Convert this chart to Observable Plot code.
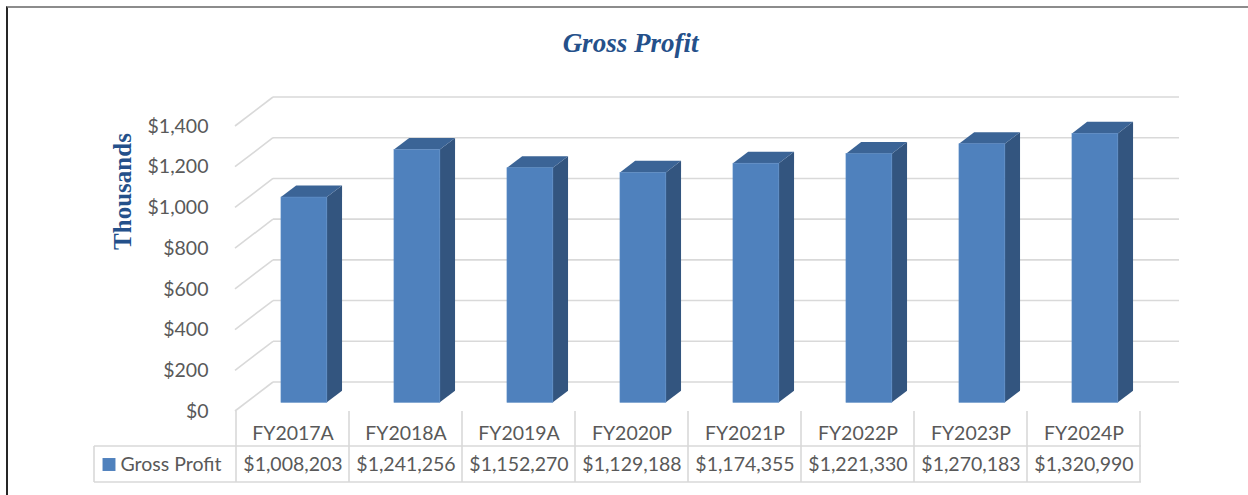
<!DOCTYPE html>
<html><head><meta charset="utf-8">
<script src="https://cdn.jsdelivr.net/npm/d3@7"></script>
<script src="https://cdn.jsdelivr.net/npm/@observablehq/plot@0.6"></script>
<style>
body{margin:0;background:#fff;}
#wrap{position:relative;width:1248px;height:495px;overflow:hidden;background:#fff;}
#frame{position:absolute;left:6px;top:6px;width:1260px;height:500px;border-left:2px solid #262626;border-top:2px solid #8c8c8c;pointer-events:none;}
#wrap svg{position:absolute;left:0;top:0;}
</style></head><body><div id="wrap"><div id="frame"></div></div>
<script>
// ---- data ----
const categories = ["FY2017A","FY2018A","FY2019A","FY2020P","FY2021P","FY2022P","FY2023P","FY2024P"];
const values = [1008.203, 1241.256, 1152.270, 1129.188, 1174.355, 1221.330, 1270.183, 1320.990]; // thousands
const tableLabels = ["$1,008,203","$1,241,256","$1,152,270","$1,129,188","$1,174,355","$1,221,330","$1,270,183","$1,320,990"];
const yTicks = [0, 200, 400, 600, 800, 1000, 1200, 1400];
const seriesName = "Gross Profit";
const titleText = "Gross Profit";
const yTitle = "Thousands";

const data = categories.map((c, i) => ({cat: c, value: values[i], label: tableLabels[i]}));

// ---- 3D look ----
const DEPTH = {x: 38, y: -29};       // offset from front edge to back wall
const BAR_FRONT = 0.3, BAR_BACK = 0.7, BAR_FRAC = 0.406;
const GRID = "#d9d9d9";
const C_FRONT = "#4f81bd", C_SIDE = "#33557f", C_TOP = "#3b6496";

function bandInfo(scales, dim) {
  const x0 = dim.marginLeft, x1 = dim.width - dim.marginRight;
  let bw = scales.x.bandwidth ? +scales.x.bandwidth() : NaN;
  if (!(bw > 0)) bw = (x1 - x0) / categories.length;
  return {x0, x1, bw};
}

function walls(index, scales, vals, dim) {
  const {x0, x1, bw} = bandInfo(scales, dim);
  const g = d3.create("svg:g").attr("fill", "none").attr("stroke", GRID).attr("stroke-width", 1.6);
  for (const t of yTicks) {
    const y = scales.y(t);
    g.append("line").attr("x1", x0 + DEPTH.x).attr("x2", x1 + DEPTH.x).attr("y1", y + DEPTH.y).attr("y2", y + DEPTH.y);
    g.append("line").attr("x1", x0).attr("x2", x0 + DEPTH.x).attr("y1", y).attr("y2", y + DEPTH.y);
  }
  // data table grid
  const yb = scales.y(0);
  const rowTop = yb + 35, rowBot = yb + 71;
  for (let i = 0; i <= categories.length; i++) {
    const xb = i < categories.length ? scales.x(categories[i]) : scales.x(categories[i - 1]) + bw;
    g.append("line").attr("x1", xb).attr("x2", xb).attr("y1", yb).attr("y2", rowBot);
  }
  const tl = x0 - 141;
  g.append("line").attr("x1", tl).attr("x2", x1).attr("y1", rowTop).attr("y2", rowTop);
  g.append("line").attr("x1", tl).attr("x2", x1).attr("y1", rowBot).attr("y2", rowBot);
  g.append("line").attr("x1", tl).attr("x2", tl).attr("y1", rowTop).attr("y2", rowBot);
  return g.node();
}

function bars3d(index, scales, vals, dim) {
  const {bw} = bandInfo(scales, dim);
  const g = d3.create("svg:g");
  const fx = DEPTH.x * BAR_FRONT, fy = DEPTH.y * BAR_FRONT;
  const sx = DEPTH.x * (BAR_BACK - BAR_FRONT), sy = DEPTH.y * (BAR_BACK - BAR_FRONT);
  const w = bw * BAR_FRAC;
  for (const d of data) {
    const cx = scales.x(d.cat) + bw / 2 + fx;
    const xl = cx - w / 2, xr = cx + w / 2;
    const yt = scales.y(d.value) + fy, y0 = scales.y(0) + fy;
    g.append("path").attr("fill", C_SIDE)
      .attr("d", `M${xr},${yt}L${xr + sx},${yt + sy}L${xr + sx},${y0 + sy}L${xr},${y0}Z`);
    g.append("path").attr("fill", C_TOP)
      .attr("d", `M${xl},${yt}L${xl + sx},${yt + sy}L${xr + sx},${yt + sy}L${xr},${yt}Z`);
    g.append("rect").attr("fill", C_FRONT).attr("stroke", "#5a8ac4").attr("stroke-width", 0.6)
      .attr("x", xl).attr("y", yt).attr("width", w).attr("height", y0 - yt);
  }
  return g.node();
}

const fmt = d => "$" + d3.format(",")(d);

const chart = Plot.plot({
  width: 1248,
  height: 495,
  marginLeft: 235,
  marginRight: 107,
  marginTop: 126,
  marginBottom: 84,
  x: {type: "band", domain: categories, padding: 0, axis: null},
  y: {domain: [0, 1400], axis: null},
  style: {fontFamily: "Lato", fontSize: "19.5px", color: "#595959", background: "transparent", overflow: "visible"},
  marks: [
    walls,
    bars3d,
    Plot.text(yTicks, {y: d => d, text: fmt, frameAnchor: "left", textAnchor: "end", lineAnchor: "middle", dx: -27, fill: "#595959"}),
    Plot.text(data, {x: "cat", text: "cat", frameAnchor: "bottom", lineAnchor: "middle", dy: 22, fill: "#595959"}),
    Plot.text(data, {x: "cat", text: "label", frameAnchor: "bottom", lineAnchor: "middle", dy: 53, fill: "#595959"}),
    Plot.dot([seriesName], {frameAnchor: "bottom-left", dx: -126.5, dy: 53, symbol: "square", r: 7.3, fill: C_FRONT, stroke: null}),
    Plot.text([seriesName], {text: d => d, frameAnchor: "bottom-left", textAnchor: "start", lineAnchor: "middle", dx: -115, dy: 53, fill: "#595959"}),
    Plot.text([titleText], {text: d => d, frameAnchor: "top", textAnchor: "middle", lineAnchor: "middle", dx: -58, dy: -83, fontFamily: "Liberation Serif", fontWeight: "bold", fontStyle: "italic", fontSize: 27, fill: "#24508a"}),
    Plot.text([yTitle], {text: d => d, frameAnchor: "top-left", textAnchor: "middle", lineAnchor: "middle", dx: -113, dy: 65, rotate: -90, fontFamily: "Liberation Serif", fontWeight: "bold", fontSize: 25, fill: "#24508a"})
  ]
});
document.getElementById("wrap").appendChild(chart);
</script>
</body></html>
